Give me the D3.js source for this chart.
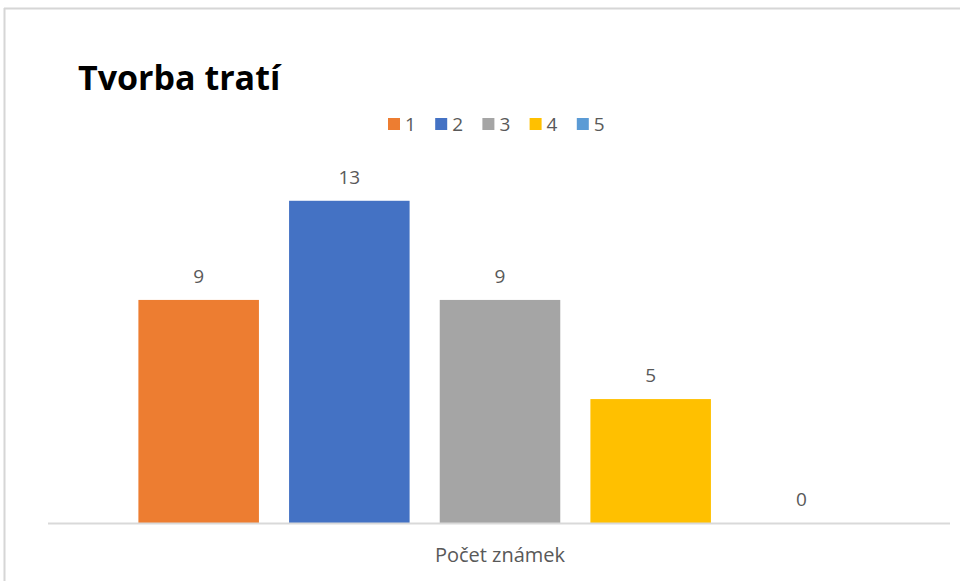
<!DOCTYPE html>
<html>
<head>
<meta charset="utf-8">
<script src="https://cdn.jsdelivr.net/npm/d3@7"></script>
<style>
  body { margin: 0; background: #fff; }
  text { font-family: "Open Sans", "Noto Sans", sans-serif; }
</style>
</head>
<body>
<svg id="chart" width="960" height="581"></svg>
<script>
var series = ["1", "2", "3", "4", "5"];
var values = [9, 13, 9, 5, 0];
var colors = ["#ED7D31", "#4472C4", "#A5A5A5", "#FFC000", "#5B9BD5"];
var category = "Počet známek";
var title = "Tvorba tratí";

var svg = d3.select("#chart");

// frame (only top and left edges are visible)
svg.append("line").attr("x1", 4).attr("x2", 960).attr("y1", 8.5).attr("y2", 8.5)
  .attr("stroke", "#d6d6d6").attr("stroke-width", 2);
svg.append("line").attr("x1", 4.5).attr("x2", 4.5).attr("y1", 8).attr("y2", 581)
  .attr("stroke", "#d6d6d6").attr("stroke-width", 2);

var plot = {left: 48, right: 952, top: 176, bottom: 523};

var x = d3.scaleBand().domain(series).range([plot.left, plot.right])
  .paddingInner(0.2).paddingOuter(0.6);
var y = d3.scaleLinear().domain([0, 14]).range([plot.bottom, plot.top]);
var color = d3.scaleOrdinal().domain(series).range(colors);

var data = series.map(function(s, i) { return {key: s, value: values[i]}; });

svg.selectAll(".bar").data(data).enter().append("rect")
  .attr("class", "bar")
  .attr("x", function(d) { return x(d.key); })
  .attr("width", x.bandwidth())
  .attr("y", function(d) { return y(d.value); })
  .attr("height", function(d) { return y(0) - y(d.value); })
  .attr("fill", function(d) { return color(d.key); });

svg.selectAll(".lbl").data(data).enter().append("text")
  .attr("class", "lbl")
  .attr("x", function(d) { return x(d.key) + x.bandwidth() / 2; })
  .attr("y", function(d) { return y(d.value) - 17; })
  .attr("text-anchor", "middle")
  .attr("fill", "#595959")
  .style("font-size", "19px")
  .text(function(d) { return d.value; });

// baseline
svg.append("line").attr("x1", plot.left).attr("x2", 950)
  .attr("y1", y(0) + 0.5).attr("y2", y(0) + 0.5)
  .attr("stroke", "#d9d9d9").attr("stroke-width", 2);

// category label
svg.append("text")
  .attr("x", (plot.left + plot.right) / 2).attr("y", 562)
  .attr("text-anchor", "middle").attr("fill", "#595959")
  .style("font-size", "20px")
  .text(category);

// title
svg.append("text")
  .attr("x", 78).attr("y", 90)
  .attr("fill", "#000").style("font-weight", "bold")
  .style("font-size", "34px")
  .text(title);

// legend
var lx = d3.scaleBand().domain(series).range([388, 624]);
var leg = svg.selectAll(".leg").data(series).enter().append("g")
  .attr("class", "leg")
  .attr("transform", function(d) { return "translate(" + lx(d) + ",118)"; });
leg.append("rect").attr("width", 12).attr("height", 12)
  .attr("fill", function(d) { return color(d); });
leg.append("text").attr("x", 17).attr("y", 12.5)
  .attr("fill", "#595959").style("font-size", "19px")
  .text(function(d) { return d; });
</script>
</body>
</html>
